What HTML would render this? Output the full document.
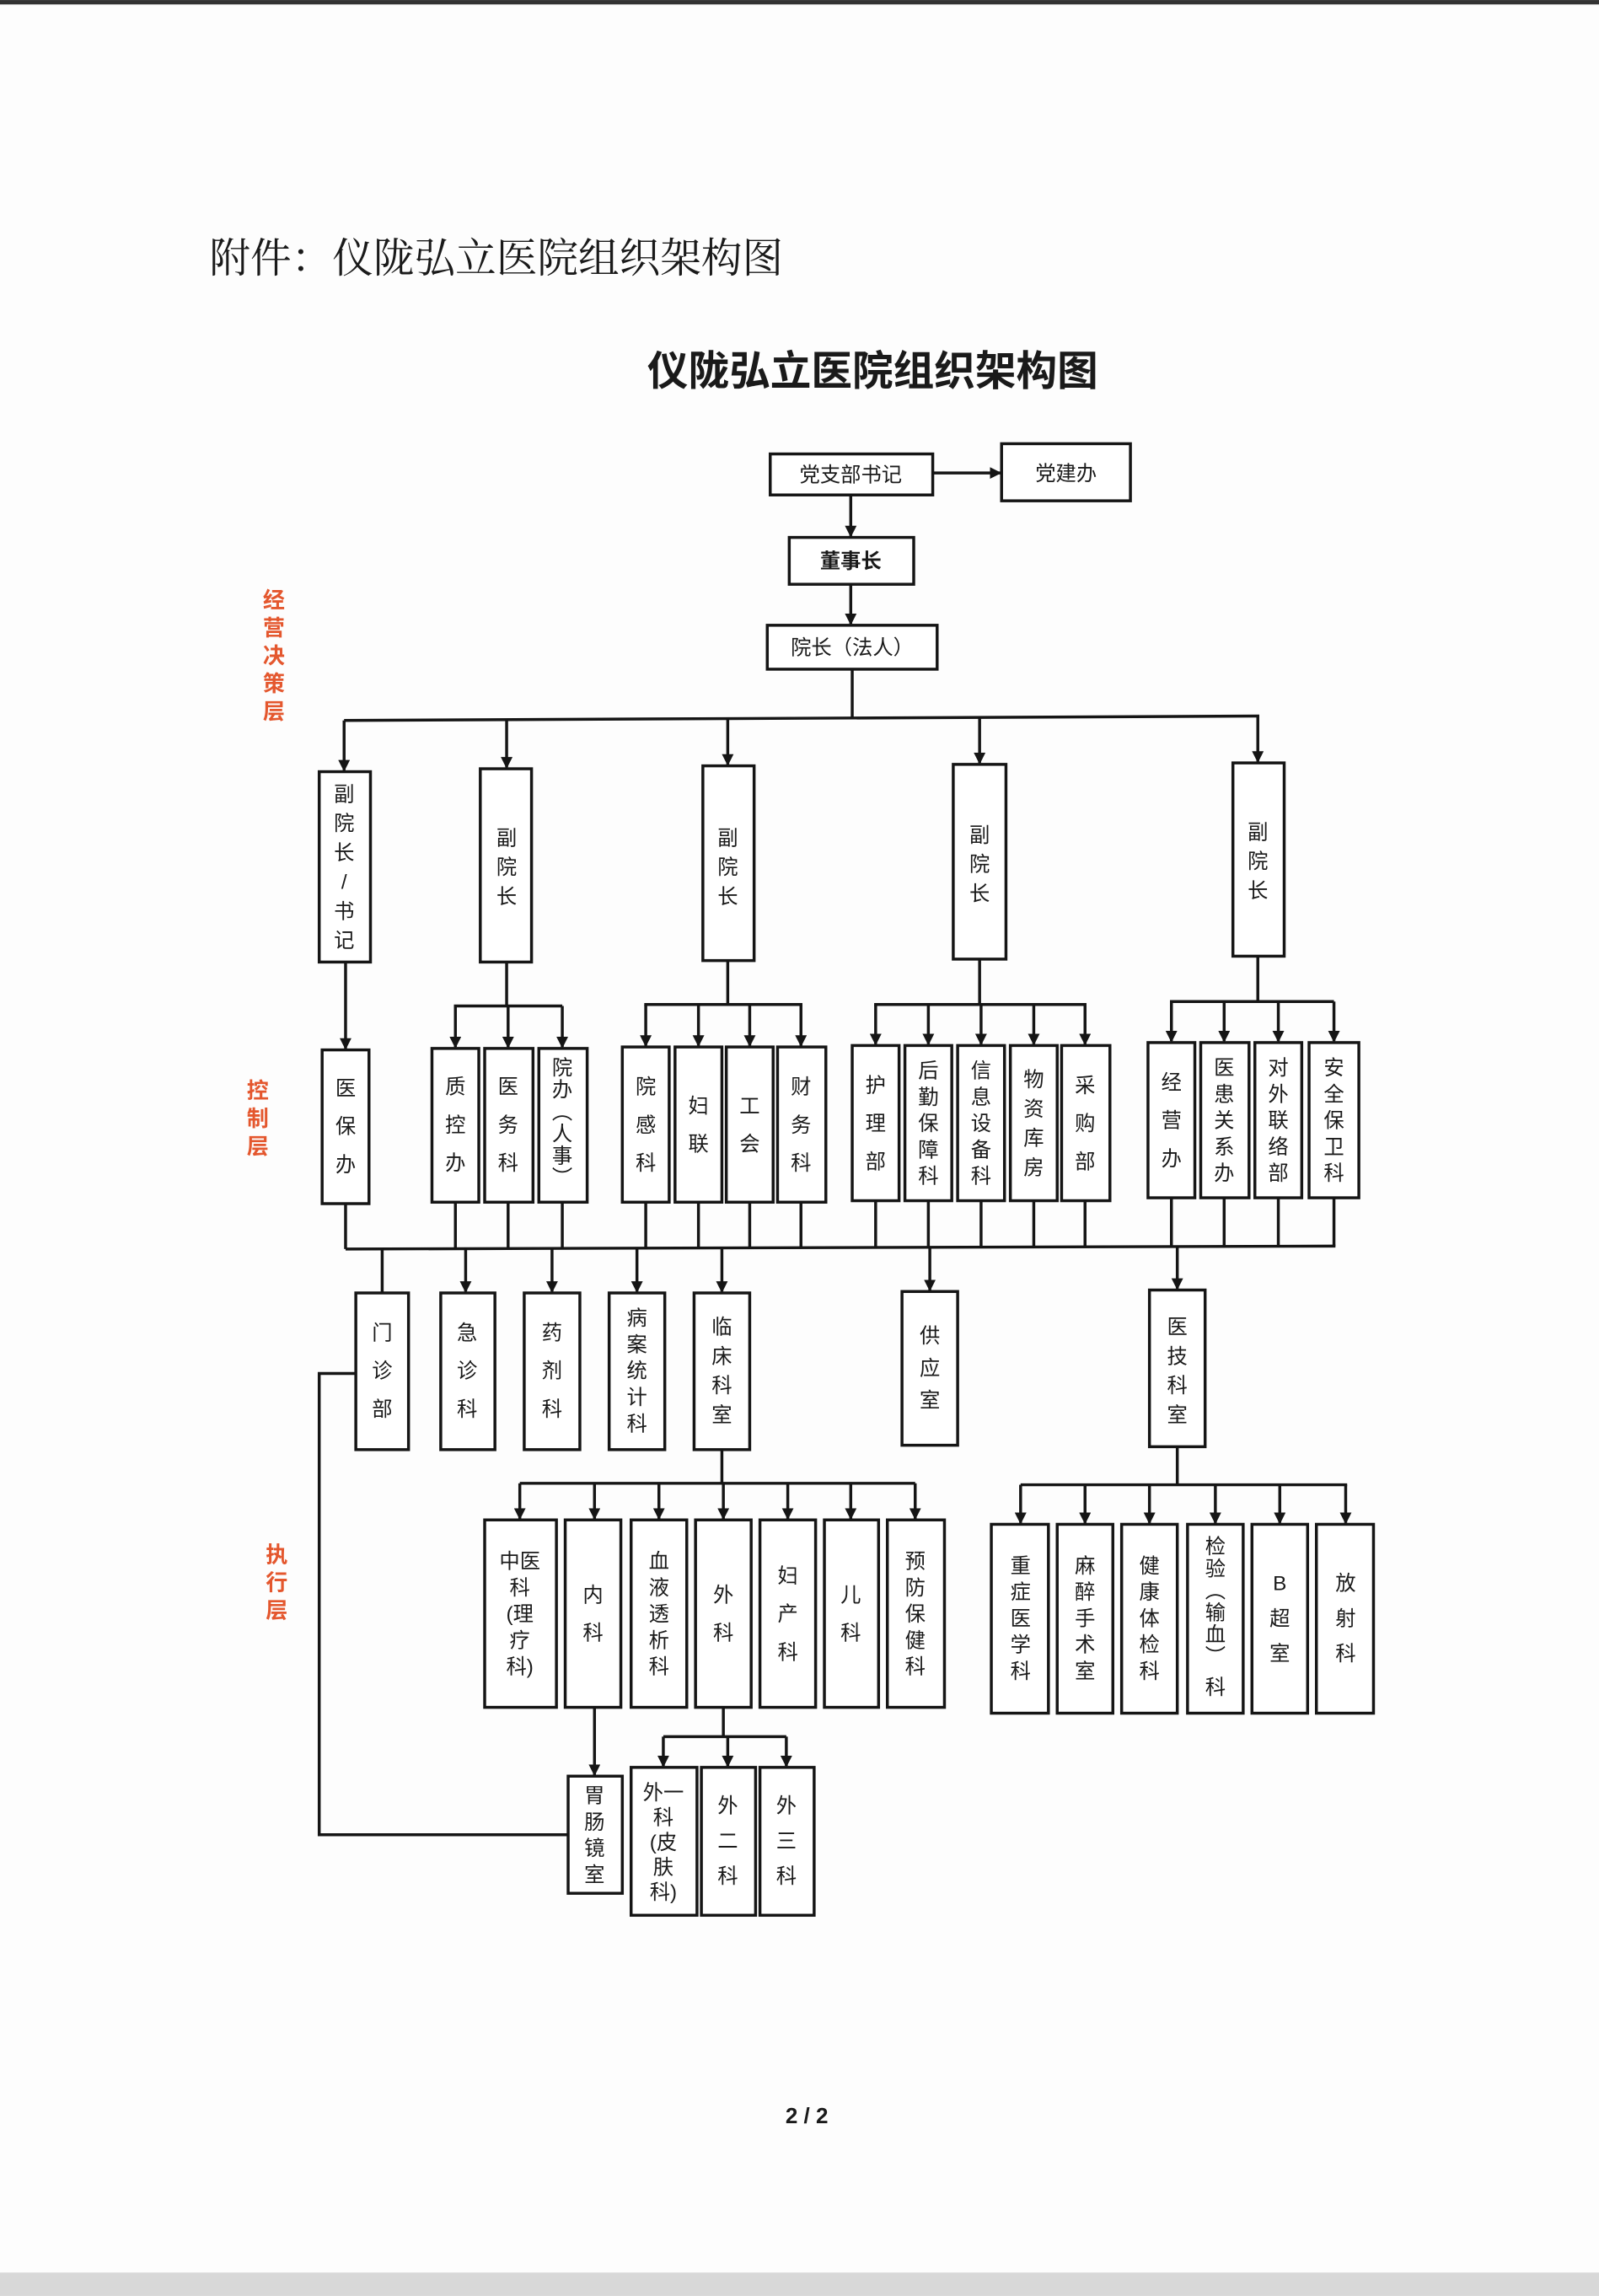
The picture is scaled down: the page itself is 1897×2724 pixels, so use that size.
<!DOCTYPE html>
<html><head><meta charset="utf-8"><style>
html,body{margin:0;padding:0;background:#fff;}
svg{display:block;}
text{font-family:"Liberation Sans","Noto Sans CJK SC",sans-serif;fill:#1a1a1a;}
.b{fill:#fff;stroke:#151515;stroke-width:2;}
.l{stroke:#151515;stroke-width:2;fill:none;}
.a{stroke:#151515;stroke-width:2;fill:none;marker-end:url(#ar);}
.t{font-size:14px;text-anchor:middle;}
.r{font-size:15px;font-weight:bold;fill:#e4572e;text-anchor:middle;}
</style></head><body>
<svg width="1897" height="2724" viewBox="0 0 1092 1568" xmlns="http://www.w3.org/2000/svg">
<defs><marker id="ar" markerWidth="8" markerHeight="8" refX="7" refY="4" orient="auto" markerUnits="userSpaceOnUse"><path d="M0,0 L8,4 L0,8 z" fill="#151515"/></marker></defs>
<rect x="0" y="0" width="1092" height="1568" fill="#fdfdfd"/>
<rect x="0" y="0" width="1092" height="3" fill="#333"/>
<rect x="0" y="1552" width="1092" height="16" fill="#d8d8d8"/>
<text x="143" y="186" style="font-size:28px;font-family:'Noto Serif CJK SC','Noto Sans CJK SC',sans-serif;">附件：仪陇弘立医院组织架构图</text>
<text x="596" y="263" style="font-size:28px;font-weight:bold;text-anchor:middle;">仪陇弘立医院组织架构图</text>

<!-- top -->
<rect class="b" x="526" y="310" width="111" height="28"/><text class="t" x="581" y="329">党支部书记</text>
<rect class="b" x="684" y="303" width="88" height="39"/><text class="t" x="728" y="328">党建办</text>
<line class="a" x1="637" y1="323" x2="683" y2="323"/>
<line class="a" x1="581" y1="338" x2="581" y2="366"/>
<rect class="b" x="539" y="367" width="85" height="32"/><text class="t" x="581" y="388" font-weight="bold">董事长</text>
<line class="a" x1="581" y1="399" x2="581" y2="426"/>
<rect class="b" x="524" y="427" width="116" height="30"/><text class="t" x="582" y="447">院长（法人）</text>
<polyline class="l" points="582,457 582,490"/>
<line class="l" x1="235" y1="492" x2="860" y2="489"/>
<line class="a" x1="235" y1="492" x2="235" y2="526"/>
<line class="a" x1="346" y1="491" x2="346" y2="524"/>
<line class="a" x1="497" y1="491" x2="497" y2="522"/>
<line class="a" x1="669" y1="490" x2="669" y2="521"/>
<line class="a" x1="859" y1="489" x2="859" y2="520"/>

<!-- red labels -->
<text class="r" x="187"><tspan x="187" y="415">经</tspan><tspan x="187" y="434">营</tspan><tspan x="187" y="453">决</tspan><tspan x="187" y="472">策</tspan><tspan x="187" y="491">层</tspan></text>
<text class="r" x="176"><tspan x="176" y="750">控</tspan><tspan x="176" y="769">制</tspan><tspan x="176" y="788">层</tspan></text>
<text class="r" x="189"><tspan x="189" y="1067">执</tspan><tspan x="189" y="1086">行</tspan><tspan x="189" y="1105">层</tspan></text>

<!-- VPs -->
<rect class="b" x="218" y="527" width="35" height="130"/><text class="t"><tspan x="235" y="547">副</tspan><tspan x="235" y="567">院</tspan><tspan x="235" y="587">长</tspan><tspan x="235" y="607">/</tspan><tspan x="235" y="627">书</tspan><tspan x="235" y="647">记</tspan></text>
<rect class="b" x="328" y="525" width="35" height="132"/><text class="t"><tspan x="346" y="577">副</tspan><tspan x="346" y="597">院</tspan><tspan x="346" y="617">长</tspan></text>
<rect class="b" x="480" y="523" width="35" height="133"/><text class="t"><tspan x="497" y="577">副</tspan><tspan x="497" y="597">院</tspan><tspan x="497" y="617">长</tspan></text>
<rect class="b" x="651" y="522" width="36" height="133"/><text class="t"><tspan x="669" y="575">副</tspan><tspan x="669" y="595">院</tspan><tspan x="669" y="615">长</tspan></text>
<rect class="b" x="842" y="521" width="35" height="132"/><text class="t"><tspan x="859" y="573">副</tspan><tspan x="859" y="593">院</tspan><tspan x="859" y="613">长</tspan></text>

<!-- VP -> layer2 -->
<line class="a" x1="236" y1="657" x2="236" y2="716"/>
<polyline class="l" points="346,657 346,687"/><line class="l" x1="310" y1="687" x2="384" y2="687"/>
<line class="a" x1="311" y1="687" x2="311" y2="715"/><line class="a" x1="347" y1="687" x2="347" y2="715"/><line class="a" x1="384" y1="687" x2="384" y2="715"/>
<polyline class="l" points="497,656 497,686"/><line class="l" x1="440" y1="686" x2="548" y2="686"/>
<line class="a" x1="441" y1="686" x2="441" y2="714"/><line class="a" x1="477" y1="686" x2="477" y2="714"/><line class="a" x1="512" y1="686" x2="512" y2="714"/><line class="a" x1="547" y1="686" x2="547" y2="714"/>
<polyline class="l" points="669,655 669,686"/><line class="l" x1="597" y1="686" x2="742" y2="686"/>
<line class="a" x1="598" y1="686" x2="598" y2="713"/><line class="a" x1="634" y1="686" x2="634" y2="713"/><line class="a" x1="670" y1="686" x2="670" y2="713"/><line class="a" x1="706" y1="686" x2="706" y2="713"/><line class="a" x1="741" y1="686" x2="741" y2="713"/>
<polyline class="l" points="859,653 859,684"/><line class="l" x1="799" y1="684" x2="911" y2="684"/>
<line class="a" x1="800" y1="684" x2="800" y2="711"/><line class="a" x1="836" y1="684" x2="836" y2="711"/><line class="a" x1="873" y1="684" x2="873" y2="711"/><line class="a" x1="911" y1="684" x2="911" y2="711"/>

<!-- layer2 boxes -->
<rect class="b" x="220" y="717" width="32" height="105"/><text class="t"><tspan x="236" y="748">医</tspan><tspan x="236" y="774">保</tspan><tspan x="236" y="800">办</tspan></text>
<rect class="b" x="295" y="716" width="32" height="105"/><text class="t"><tspan x="311" y="747">质</tspan><tspan x="311" y="773">控</tspan><tspan x="311" y="799">办</tspan></text>
<rect class="b" x="331" y="716" width="33" height="105"/><text class="t"><tspan x="347" y="747">医</tspan><tspan x="347" y="773">务</tspan><tspan x="347" y="799">科</tspan></text>
<rect class="b" x="368" y="716" width="33" height="105"/><text class="t"><tspan x="384" y="734">院</tspan><tspan x="384" y="749">办</tspan><tspan x="384" y="764">︵</tspan><tspan x="384" y="779">人</tspan><tspan x="384" y="794">事</tspan><tspan x="384" y="809">︶</tspan></text>
<rect class="b" x="425" y="715" width="32" height="106"/><text class="t"><tspan x="441" y="747">院</tspan><tspan x="441" y="773">感</tspan><tspan x="441" y="799">科</tspan></text>
<rect class="b" x="461" y="715" width="32" height="106"/><text class="t"><tspan x="477" y="760">妇</tspan><tspan x="477" y="786">联</tspan></text>
<rect class="b" x="496" y="715" width="32" height="106"/><text class="t"><tspan x="512" y="760">工</tspan><tspan x="512" y="786">会</tspan></text>
<rect class="b" x="531" y="715" width="33" height="106"/><text class="t"><tspan x="547" y="747">财</tspan><tspan x="547" y="773">务</tspan><tspan x="547" y="799">科</tspan></text>
<rect class="b" x="582" y="714" width="32" height="106"/><text class="t"><tspan x="598" y="746">护</tspan><tspan x="598" y="772">理</tspan><tspan x="598" y="798">部</tspan></text>
<rect class="b" x="618" y="714" width="32" height="106"/><text class="t"><tspan x="634" y="736">后</tspan><tspan x="634" y="754">勤</tspan><tspan x="634" y="772">保</tspan><tspan x="634" y="790">障</tspan><tspan x="634" y="808">科</tspan></text>
<rect class="b" x="654" y="714" width="32" height="106"/><text class="t"><tspan x="670" y="736">信</tspan><tspan x="670" y="754">息</tspan><tspan x="670" y="772">设</tspan><tspan x="670" y="790">备</tspan><tspan x="670" y="808">科</tspan></text>
<rect class="b" x="690" y="714" width="32" height="106"/><text class="t"><tspan x="706" y="742">物</tspan><tspan x="706" y="762">资</tspan><tspan x="706" y="782">库</tspan><tspan x="706" y="802">房</tspan></text>
<rect class="b" x="725" y="714" width="33" height="106"/><text class="t"><tspan x="741" y="746">采</tspan><tspan x="741" y="772">购</tspan><tspan x="741" y="798">部</tspan></text>
<rect class="b" x="784" y="712" width="32" height="106"/><text class="t"><tspan x="800" y="744">经</tspan><tspan x="800" y="770">营</tspan><tspan x="800" y="796">办</tspan></text>
<rect class="b" x="820" y="712" width="33" height="106"/><text class="t"><tspan x="836" y="734">医</tspan><tspan x="836" y="752">患</tspan><tspan x="836" y="770">关</tspan><tspan x="836" y="788">系</tspan><tspan x="836" y="806">办</tspan></text>
<rect class="b" x="857" y="712" width="32" height="106"/><text class="t"><tspan x="873" y="734">对</tspan><tspan x="873" y="752">外</tspan><tspan x="873" y="770">联</tspan><tspan x="873" y="788">络</tspan><tspan x="873" y="806">部</tspan></text>
<rect class="b" x="894" y="712" width="34" height="106"/><text class="t"><tspan x="911" y="734">安</tspan><tspan x="911" y="752">全</tspan><tspan x="911" y="770">保</tspan><tspan x="911" y="788">卫</tspan><tspan x="911" y="806">科</tspan></text>

<!-- bottom bar of layer2 -->
<line class="l" x1="236" y1="853" x2="912" y2="851"/>
<g class="l">
<line x1="236" y1="822" x2="236" y2="853"/><line x1="311" y1="821" x2="311" y2="853"/><line x1="347" y1="821" x2="347" y2="853"/><line x1="384" y1="821" x2="384" y2="853"/>
<line x1="441" y1="821" x2="441" y2="852"/><line x1="477" y1="821" x2="477" y2="852"/><line x1="512" y1="821" x2="512" y2="852"/><line x1="547" y1="821" x2="547" y2="852"/>
<line x1="598" y1="820" x2="598" y2="852"/><line x1="634" y1="820" x2="634" y2="852"/><line x1="670" y1="820" x2="670" y2="852"/><line x1="706" y1="820" x2="706" y2="852"/><line x1="741" y1="820" x2="741" y2="852"/>
<line x1="800" y1="818" x2="800" y2="851"/><line x1="836" y1="818" x2="836" y2="851"/><line x1="873" y1="818" x2="873" y2="851"/><line x1="911" y1="818" x2="911" y2="851"/>
</g>
<line class="l" x1="261" y1="853" x2="261" y2="883"/>
<line class="a" x1="318" y1="853" x2="318" y2="882"/>
<line class="a" x1="377" y1="853" x2="377" y2="882"/>
<line class="a" x1="435" y1="853" x2="435" y2="882"/>
<line class="a" x1="493" y1="853" x2="493" y2="882"/>
<line class="a" x1="635" y1="852" x2="635" y2="881"/>
<line class="a" x1="804" y1="851" x2="804" y2="880"/>

<!-- layer3 -->
<rect class="b" x="243" y="883" width="36" height="107"/><text class="t"><tspan x="261" y="915">门</tspan><tspan x="261" y="941">诊</tspan><tspan x="261" y="967">部</tspan></text>
<rect class="b" x="301" y="883" width="37" height="107"/><text class="t"><tspan x="319" y="915">急</tspan><tspan x="319" y="941">诊</tspan><tspan x="319" y="967">科</tspan></text>
<rect class="b" x="358" y="883" width="38" height="107"/><text class="t"><tspan x="377" y="915">药</tspan><tspan x="377" y="941">剂</tspan><tspan x="377" y="967">科</tspan></text>
<rect class="b" x="416" y="883" width="38" height="107"/><text class="t"><tspan x="435" y="905">病</tspan><tspan x="435" y="923">案</tspan><tspan x="435" y="941">统</tspan><tspan x="435" y="959">计</tspan><tspan x="435" y="977">科</tspan></text>
<rect class="b" x="474" y="883" width="38" height="107"/><text class="t"><tspan x="493" y="911">临</tspan><tspan x="493" y="931">床</tspan><tspan x="493" y="951">科</tspan><tspan x="493" y="971">室</tspan></text>
<rect class="b" x="616" y="882" width="38" height="105"/><text class="t"><tspan x="635" y="917">供</tspan><tspan x="635" y="939">应</tspan><tspan x="635" y="961">室</tspan></text>
<rect class="b" x="785" y="881" width="38" height="107"/><text class="t"><tspan x="804" y="911">医</tspan><tspan x="804" y="931">技</tspan><tspan x="804" y="951">科</tspan><tspan x="804" y="971">室</tspan></text>

<!-- 门诊部 connector -->
<polyline class="l" points="243,938 218,938 218,1253 388,1253"/>

<!-- clinical -->
<line class="l" x1="493" y1="990" x2="493" y2="1013"/>
<line class="l" x1="355" y1="1013" x2="625" y2="1013"/>
<line class="a" x1="355" y1="1013" x2="355" y2="1037"/><line class="a" x1="406" y1="1013" x2="406" y2="1037"/><line class="a" x1="450" y1="1013" x2="450" y2="1037"/><line class="a" x1="494" y1="1013" x2="494" y2="1037"/><line class="a" x1="538" y1="1013" x2="538" y2="1037"/><line class="a" x1="581" y1="1013" x2="581" y2="1037"/><line class="a" x1="625" y1="1013" x2="625" y2="1037"/>
<rect class="b" x="331" y="1038" width="49" height="128"/><text class="t"><tspan x="355" y="1071">中医</tspan><tspan x="355" y="1089">科</tspan><tspan x="355" y="1107">(理</tspan><tspan x="355" y="1125">疗</tspan><tspan x="355" y="1143">科)</tspan></text>
<rect class="b" x="386" y="1038" width="38" height="128"/><text class="t"><tspan x="405" y="1094">内</tspan><tspan x="405" y="1120">科</tspan></text>
<rect class="b" x="431" y="1038" width="38" height="128"/><text class="t"><tspan x="450" y="1071">血</tspan><tspan x="450" y="1089">液</tspan><tspan x="450" y="1107">透</tspan><tspan x="450" y="1125">析</tspan><tspan x="450" y="1143">科</tspan></text>
<rect class="b" x="475" y="1038" width="38" height="128"/><text class="t"><tspan x="494" y="1094">外</tspan><tspan x="494" y="1120">科</tspan></text>
<rect class="b" x="519" y="1038" width="38" height="128"/><text class="t"><tspan x="538" y="1081">妇</tspan><tspan x="538" y="1107">产</tspan><tspan x="538" y="1133">科</tspan></text>
<rect class="b" x="563" y="1038" width="37" height="128"/><text class="t"><tspan x="581" y="1094">儿</tspan><tspan x="581" y="1120">科</tspan></text>
<rect class="b" x="606" y="1038" width="39" height="128"/><text class="t"><tspan x="625" y="1071">预</tspan><tspan x="625" y="1089">防</tspan><tspan x="625" y="1107">保</tspan><tspan x="625" y="1125">健</tspan><tspan x="625" y="1143">科</tspan></text>

<!-- 医技 -->
<line class="l" x1="804" y1="988" x2="804" y2="1014"/>
<line class="l" x1="697" y1="1014" x2="920" y2="1014"/>
<line class="a" x1="697" y1="1014" x2="697" y2="1040"/><line class="a" x1="741" y1="1014" x2="741" y2="1040"/><line class="a" x1="785" y1="1014" x2="785" y2="1040"/><line class="a" x1="830" y1="1014" x2="830" y2="1040"/><line class="a" x1="874" y1="1014" x2="874" y2="1040"/><line class="a" x1="919" y1="1014" x2="919" y2="1040"/>
<rect class="b" x="677" y="1041" width="39" height="129"/><text class="t"><tspan x="697" y="1074">重</tspan><tspan x="697" y="1092">症</tspan><tspan x="697" y="1110">医</tspan><tspan x="697" y="1128">学</tspan><tspan x="697" y="1146">科</tspan></text>
<rect class="b" x="722" y="1041" width="38" height="129"/><text class="t"><tspan x="741" y="1074">麻</tspan><tspan x="741" y="1092">醉</tspan><tspan x="741" y="1110">手</tspan><tspan x="741" y="1128">术</tspan><tspan x="741" y="1146">室</tspan></text>
<rect class="b" x="766" y="1041" width="38" height="129"/><text class="t"><tspan x="785" y="1074">健</tspan><tspan x="785" y="1092">康</tspan><tspan x="785" y="1110">体</tspan><tspan x="785" y="1128">检</tspan><tspan x="785" y="1146">科</tspan></text>
<rect class="b" x="811" y="1041" width="38" height="129"/><text class="t"><tspan x="830" y="1061">检</tspan><tspan x="830" y="1076">验</tspan><tspan x="830" y="1091">︵</tspan><tspan x="830" y="1106">输</tspan><tspan x="830" y="1121">血</tspan><tspan x="830" y="1136">︶</tspan><tspan x="830" y="1157">科</tspan></text>
<rect class="b" x="855" y="1041" width="38" height="129"/><text class="t"><tspan x="874" y="1086">B</tspan><tspan x="874" y="1110">超</tspan><tspan x="874" y="1134">室</tspan></text>
<rect class="b" x="899" y="1041" width="39" height="129"/><text class="t"><tspan x="919" y="1086">放</tspan><tspan x="919" y="1110">射</tspan><tspan x="919" y="1134">科</tspan></text>

<!-- sub -->
<line class="a" x1="406" y1="1166" x2="406" y2="1212"/>
<rect class="b" x="388" y="1213" width="37" height="80"/><text class="t"><tspan x="406" y="1231">胃</tspan><tspan x="406" y="1249">肠</tspan><tspan x="406" y="1267">镜</tspan><tspan x="406" y="1285">室</tspan></text>
<line class="l" x1="494" y1="1166" x2="494" y2="1186"/>
<line class="l" x1="453" y1="1186" x2="537" y2="1186"/>
<line class="a" x1="453" y1="1186" x2="453" y2="1206"/><line class="a" x1="497" y1="1186" x2="497" y2="1206"/><line class="a" x1="537" y1="1186" x2="537" y2="1206"/>
<rect class="b" x="431" y="1207" width="45" height="101"/><text class="t"><tspan x="453" y="1229">外一</tspan><tspan x="453" y="1246">科</tspan><tspan x="453" y="1263">(皮</tspan><tspan x="453" y="1280">肤</tspan><tspan x="453" y="1297">科)</tspan></text>
<rect class="b" x="479" y="1207" width="37" height="101"/><text class="t"><tspan x="497" y="1238">外</tspan><tspan x="497" y="1262">二</tspan><tspan x="497" y="1286">科</tspan></text>
<rect class="b" x="519" y="1207" width="37" height="101"/><text class="t"><tspan x="537" y="1238">外</tspan><tspan x="537" y="1262">三</tspan><tspan x="537" y="1286">科</tspan></text>

<text x="551" y="1450" style="font-size:15px;font-weight:bold;text-anchor:middle;">2 / 2</text>
</svg>
</body></html>
